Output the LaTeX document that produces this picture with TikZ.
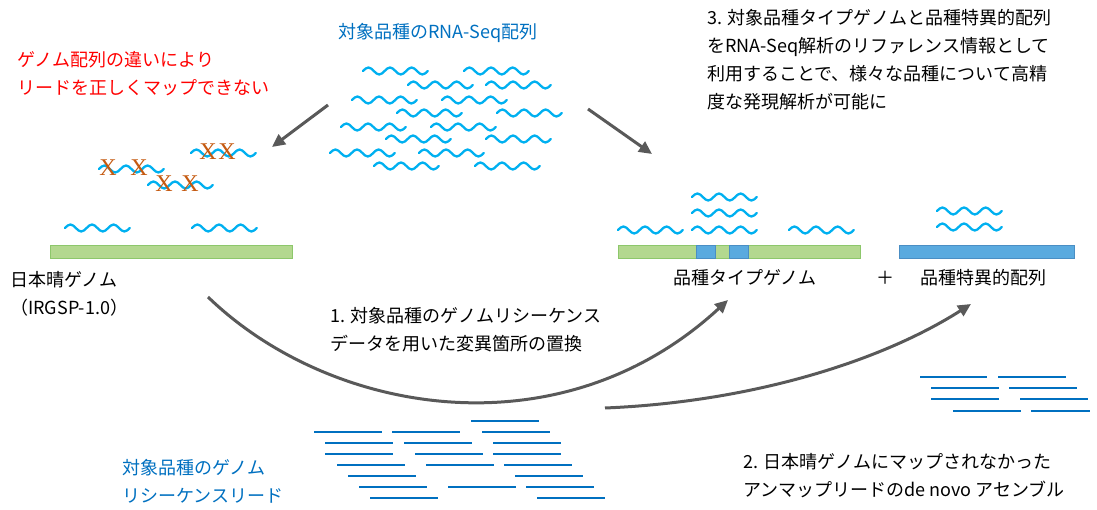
\documentclass[tikz,border=0pt]{standalone}
\usepackage{fontspec}
\setmainfont{Noto Sans CJK JP}
\newfontfamily\xserif{Liberation Serif}
\usetikzlibrary{arrows.meta}
\definecolor{wblue}{HTML}{00B0F0}
\definecolor{dblue}{HTML}{0070C0}
\definecolor{gfill}{HTML}{B3D88F}
\definecolor{gline}{HTML}{8DC76B}
\definecolor{bfill}{HTML}{5AAADF}
\definecolor{bline}{HTML}{4A8EC4}
\definecolor{xcol}{HTML}{C55A11}
\definecolor{agray}{HTML}{595959}
\definecolor{tred}{HTML}{FF0000}
\tikzset{
  wv/.pic={\draw[wblue, line width=2.3, line cap=round]
    (0,0) sin ++(5.4,-3.5) cos ++(5.4,3.5) sin ++(5.4,3.5) cos ++(5.4,-3.5)
          sin ++(5.4,-3.5) cos ++(5.4,3.5) sin ++(5.4,3.5) cos ++(5.4,-3.5)
          sin ++(5.4,-3.5) cos ++(5.4,3.5) sin ++(5.4,3.5) cos ++(5.4,-3.5);},
  rd/.style={dblue, line width=2.4},
  txt/.style={inner sep=0pt, font=\fontsize{18}{28}\selectfont, align=left},
  xmark/.style={inner sep=0pt, text=xcol, font=\xserif\fontsize{24}{24}\selectfont},
  arr/.style={agray, line width=3, -{Triangle[length=13, width=12]}},
  gbar/.style={fill=gfill, draw=gline, line width=0.8},
  bbar/.style={fill=bfill, draw=bline, line width=0.8},
}
\begin{document}
\begin{tikzpicture}[x=1pt, y=-1pt]
\useasboundingbox (0,0) rectangle (1097,510);
% texts
\node[txt, text=dblue, anchor=center] (rnat) at (438,33) {対象品種のRNA-Seq配列};
\node[txt, text=tred, anchor=north west] (redt) at (17,51) {ゲノム配列の違いにより\\リードを正しくマップできない};
\node[txt, anchor=north west] (s3) at (707,9) {3. 対象品種タイプゲノムと品種特異的配列\\をRNA-Seq解析のリファレンス情報として\\利用することで、様々な品種について高精\\度な発現解析が可能に};
\node[txt, anchor=north west] (nip) at (10,271) {日本晴ゲノム\\（IRGSP-1.0）};
\node[txt, anchor=north west] (s1) at (330,307) {1. 対象品種のゲノムリシーケンス\\データを用いた変異箇所の置換};
\node[txt, anchor=center] (tg) at (745,278) {品種タイプゲノム};
\node[txt, anchor=center] (plus) at (885,278) {＋};
\node[txt, anchor=center] (sp) at (983,278) {品種特異的配列};
\node[txt, text=dblue, anchor=north west] (rrl) at (122,459) {対象品種のゲノム\\リシーケンスリード};
\node[txt, anchor=north west] (s2) at (743,453) {2. 日本晴ゲノムにマップされなかった\\アンマップリードのde novo アセンブル};
% top RNA-Seq reads
\foreach \p in {(363,71),(464,71),(408,85),(486,85),(352,100),(442,100),(397,113),(497,113),
  (341,127),(431,127),(386,139),(486,139),(330,153),(419,153),(374,166),(475,166)}
  \pic at \p {wv};
% left: Nipponbare genome
\draw[gbar] (50,245) rectangle (292,258);
\pic at (65,228) {wv};
\pic at (192,228) {wv};
\pic at (99,169) {wv};
\pic at (148,185) {wv};
\pic at (191,153) {wv};
\node[xmark] (x1) at (108,168) {X};
\node[xmark] (x2) at (139,168) {X};
\node[xmark] (x3) at (164,184) {X};
\node[xmark] (x4) at (190,184) {X};
\node[xmark] (x5) at (208,152) {X};
\node[xmark] (x6) at (227,152) {X};
% middle: type genome
\draw[gbar] (618,245) rectangle (860,258);
\draw[bbar] (696,245) rectangle (715,258);
\draw[bbar] (729,245) rectangle (748,258);
\pic at (618,230) {wv};
\pic at (692,230) {wv};
\pic at (789,230) {wv};
\pic at (692,213) {wv};
\pic at (692,197) {wv};
% right: specific sequences
\draw[bbar] (899,245) rectangle (1074,258);
\pic at (937,211) {wv};
\pic at (937,227) {wv};
% bottom resequencing reads
\foreach \x/\y in {471/421, 314/432,392/432,482/432, 325/443,404/443,493/443,
  325/454,415/454,493/454, 337/465,426/465,504/465, 348/476,515/476,
  359/487,448/487,526/487, 370/498,537/498}
  \draw[rd] (\x,\y) -- ++(68,0);
% right assembled reads
\foreach \x/\y/\l in {920/377/67,998/377/68, 931/388/68,1009/388/68, 931/399/68,1020/399/68,
  953/411/68,1031/411/59}
  \draw[rd] (\x,\y) -- ++(\l,0);
% arrows
\coordinate (a1s) at (328,105);
\coordinate (a1e) at (272,147);
\coordinate (a2s) at (588,109);
\coordinate (a2e) at (652,154);
\coordinate (c1s) at (208,297);
\coordinate (c1e) at (728,300);
\coordinate (c2s) at (605,408);
\coordinate (c2e) at (971,304);
\draw[arr] (a1s) -- (a1e);
\draw[arr] (a2s) -- (a2e);
\draw[arr] (c1s) .. controls (330,415) and (560,455) .. (c1e);
\draw[arr] (c2s) .. controls (750,402) and (880,362) .. (c2e);
\end{tikzpicture}
\end{document}
